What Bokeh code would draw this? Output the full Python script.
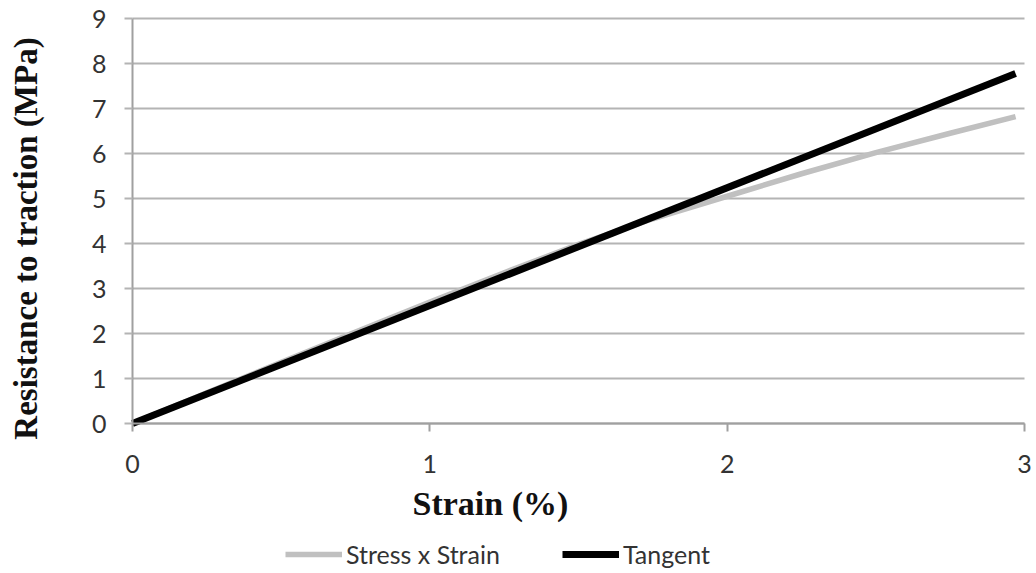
import math
from bokeh.plotting import figure
from bokeh.models import Range1d, Legend, LegendItem, Label, FixedTicker
from bokeh.embed import file_html
from bokeh.resources import INLINE

# data
strain = [0, 0.25, 0.5, 0.75, 1.0, 1.25, 1.5, 1.75, 2.0, 2.25, 2.5, 2.75, 2.97]
stress = [0, 0.68, 1.36, 2.03, 2.70, 3.35, 3.98, 4.55, 5.05, 5.55, 6.02, 6.45, 6.82]
tangent_x = [0, 2.97]
tangent_y = [0, 7.78]
x_ticks = [0, 1, 2, 3]
y_ticks = [0, 1, 2, 3, 4, 5, 6, 7, 8, 9]

# layout (pixels): the frame fills the whole canvas, axes sit at fixed data locations
W, H = 1036, 573
X0_PX, X3_PX = 132, 1024      # screen x of strain 0 and 3
Y9_PX, Y0_PX = 18, 423        # screen y of stress 9 and 0
sx = (X3_PX - X0_PX) / 3.0
sy = (Y0_PX - Y9_PX) / 9.0
x_range = Range1d(-X0_PX / sx, 3 + (W - X3_PX) / sx)
y_range = Range1d(-(H - Y0_PX) / sy, 9 + Y9_PX / sy)

p = figure(width=W, height=H, output_backend="svg", toolbar_location=None,
           x_range=x_range, y_range=y_range,
           min_border_left=0, min_border_right=0, min_border_top=0, min_border_bottom=0)
p.outline_line_color = None
p.background_fill_color = "white"
p.border_fill_color = "white"

p.xgrid.grid_line_color = None
p.ygrid.grid_line_color = "#b4b4b4"
p.ygrid.grid_line_width = 2
p.ygrid.ticker = FixedTicker(ticks=y_ticks)
p.ygrid.cross_bounds = (0, 3)

for ax in (p.xaxis[0], p.yaxis[0]):
    ax.axis_line_color = "#a0a0a0"
    ax.axis_line_width = 2
    ax.major_tick_line_color = "#a0a0a0"
    ax.major_tick_line_width = 2
    ax.major_tick_out = 8
    ax.major_tick_in = 0
    ax.minor_tick_line_color = None
    ax.major_label_text_font = "Lato"
    ax.major_label_text_font_size = "25px"
    ax.major_label_text_color = "#333333"

p.xaxis.ticker = FixedTicker(ticks=x_ticks)
p.yaxis.ticker = FixedTicker(ticks=y_ticks)
p.xaxis.fixed_location = 0
p.yaxis.fixed_location = 0
p.xaxis.bounds = (0, 3)
p.yaxis.bounds = (0, 9)
p.xaxis.major_label_standoff = 23
p.yaxis.major_label_standoff = 18
p.yaxis.major_tick_line_color = "#b4b4b4"

ylab = Label(text="Resistance to traction (MPa)", x=25, y=H - 238, x_units="screen", y_units="screen",
             angle=math.pi / 2, text_align="center", text_baseline="middle",
             text_font="Liberation Serif", text_font_style="bold",
             text_font_size="33px", text_color="#111111")
p.add_layout(ylab)

xlab = Label(text="Strain (%)", x=412, y=H - 503, x_units="screen", y_units="screen",
             text_font="Liberation Serif", text_font_style="bold",
             text_font_size="34px", text_color="#111111", text_baseline="alphabetic")
p.add_layout(xlab)

r1 = p.line(strain, stress, line_color="#c0c0c0", line_width=5.5)
r2 = p.line(tangent_x, tangent_y, line_color="#000000", line_width=7)

legend = Legend(items=[LegendItem(label="Stress x Strain", renderers=[r1]),
                       LegendItem(label="Tangent", renderers=[r2])],
                orientation="horizontal", location=(285, 4),
                glyph_width=57, glyph_height=20, label_standoff=4, spacing=62,
                padding=0, margin=0, border_line_color=None, background_fill_alpha=0,
                label_text_font="Lato", label_text_font_size="25px",
                label_text_color="#333333")
p.add_layout(legend, "center")

open("out.html", "w").write(file_html(p, INLINE))
